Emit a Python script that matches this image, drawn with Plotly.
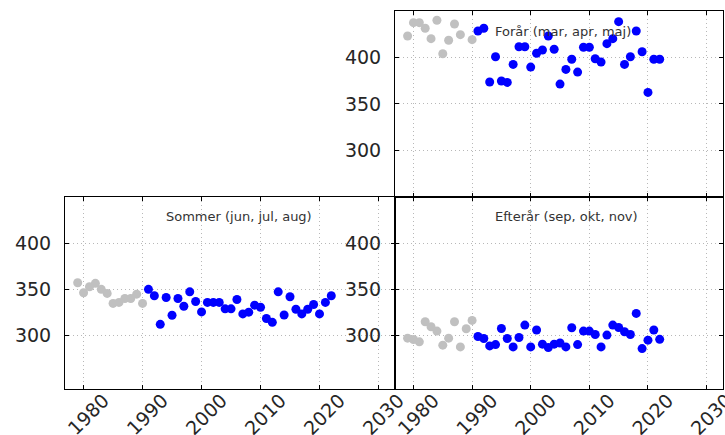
import plotly.graph_objects as go

# Seasonal values per year; grey = reference period, blue = recent period
years_early = list(range(1979, 1991))
years_late = list(range(1991, 2023))

spring_early = [423.5, 437.9, 437.9, 431.8, 420.6, 440.5, 404.3, 418.9, 436.5, 424.9, None, 419.5]
spring_late = [428.9, 431.8, 373.7, 401.1, 374.8, 373.3, 392.8, 411.9, 411.9, 389.9,
               404.8, 408.3, 423.5, 409.1, 371.5, 387.4, 398.3, 384.5, 411.3, 411.3,
               398.9, 395.3, 415.2, 420.6, 439.0, 392.8, 401.1, 428.9, 406.5, 362.5,
               398.3, 398.3]

summer_early = [356.9, 346.0, 352.5, 356.2, 349.7, 345.3, 334.4, 335.5, 339.8, 339.8, 344.5, 334.4]
summer_late = [349.7, 342.7, 311.7, 340.9, 321.6, 339.8, 331.4, 347.0, 336.5, 325.2,
               335.5, 335.5, 335.5, 328.5, 328.5, 338.7, 323.0, 324.9, 332.5, 330.3,
               318.0, 313.9, 347.0, 321.9, 341.6, 328.1, 323.0, 328.1, 333.3, 323.0,
               335.5, 342.7]

autumn_early = [296.7, 295.2, 292.7, 314.5, 309.1, 304.4, 289.1, 296.7, 314.5, 287.2, 306.9, 316.0]
autumn_late = [298.5, 296.3, 288.3, 289.7, 307.2, 296.3, 287.2, 297.4, 310.9, 287.2,
               305.5, 290.2, 286.5, 290.2, 291.5, 287.2, 308.0, 289.7, 304.4, 304.4,
               300.7, 287.2, 300.0, 310.9, 308.3, 303.6, 300.7, 323.6, 285.4, 294.5,
               305.5, 295.4]

panel_titles = ["Forår (mar, apr, maj)", "Sommer (jun, jul, aug)", "Efterår (sep, okt, nov)"]
x_ticks = [1980, 1990, 2000, 2010, 2020, 2030]
y_ticks = [300, 350, 400]

GREY = "#c0c0c0"
BLUE = "#0000ff"
MARKER = 9

fig = go.Figure()

panels = [
    ("x3", "y3", spring_early, spring_late),
    ("x", "y", summer_early, summer_late),
    ("x2", "y2", autumn_early, autumn_late),
]
for xa, ya, early, late in panels:
    fig.add_trace(go.Scatter(x=years_early, y=early, mode="markers", xaxis=xa, yaxis=ya,
                             marker=dict(color=GREY, size=MARKER), showlegend=False,
                             cliponaxis=True))
    fig.add_trace(go.Scatter(x=years_late, y=late, mode="markers", xaxis=xa, yaxis=ya,
                             marker=dict(color=BLUE, size=MARKER), showlegend=False,
                             cliponaxis=True))

col_split = 330 / 658
row_split = 192.5 / 378
tick_font = dict(family="DejaVu Sans", size=19, color="#262626")

common = dict(showline=True, linecolor="black", linewidth=1, mirror="allticks",
              ticks="inside", ticklen=4, tickcolor="black", tickwidth=1,
              showgrid=True, gridcolor="#b8b8b8", gridwidth=1, griddash="1px,3px",
              zeroline=False, tickfont=tick_font, automargin=False,
              ticklabeloverflow="allow")

x_range = [1976.85, 2032.8]
xcommon = dict(common, range=x_range, tickvals=x_ticks, ticktext=[str(t) for t in x_ticks])
ycommon = dict(common, tickvals=y_ticks, ticktext=[str(t) for t in y_ticks],
               ticklabelstandoff=9)

fig.update_layout(
    width=725, height=435,
    margin=dict(l=65, r=2, t=11, b=46),
    paper_bgcolor="white", plot_bgcolor="white",
    xaxis=dict(xcommon, domain=[0, col_split], anchor="y", tickangle=-45,
               ticklabelshift=20, ticklabelstandoff=-8),
    yaxis=dict(ycommon, domain=[0, row_split], anchor="x", range=[241.5, 450.5]),
    xaxis2=dict(xcommon, domain=[col_split, 1], anchor="y2", tickangle=-45,
                ticklabelshift=20, ticklabelstandoff=-8),
    yaxis2=dict(ycommon, domain=[0, row_split], anchor="x2", range=[241.5, 450.5]),
    xaxis3=dict(xcommon, domain=[col_split, 1], anchor="y3", showticklabels=False),
    yaxis3=dict(ycommon, domain=[row_split, 1], anchor="x3", range=[250, 450.5]),
)

title_font = dict(family="DejaVu Sans", size=13, color="#333333")
for (xa, ya), title in zip([("x3", "y3"), ("x", "y"), ("x2", "y2")], panel_titles):
    fig.add_annotation(text=title, xref=f"{xa} domain", yref=f"{ya} domain",
                       x=0.3, y=1, yshift=-20, xanchor="left", yanchor="middle",
                       showarrow=False, font=title_font)

fig.write_html("out.html")
